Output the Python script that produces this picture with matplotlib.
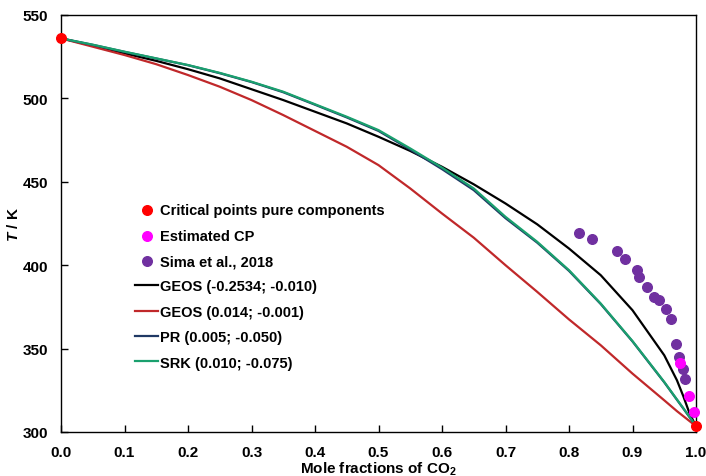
import matplotlib
matplotlib.use("Agg")
import matplotlib.pyplot as plt
import numpy as np

plt.rcParams['font.family'] = ['Liberation Sans', 'DejaVu Sans']
plt.rcParams['font.weight'] = 'bold'
plt.rcParams['mathtext.fontset'] = 'custom'
plt.rcParams['mathtext.bf'] = 'Liberation Sans:bold'
plt.rcParams['mathtext.bfit'] = 'Liberation Sans:bold:italic'

# Critical points of pure components
cp_x = [0.0, 1.0]
cp_T = [536.0, 303.5]

# Estimated critical points
est_x = [0.975, 0.989, 0.997]
est_T = [341.6, 321.8, 311.8]

# Sima et al., 2018
sima_x = [0.816, 0.836, 0.875, 0.888, 0.907, 0.911, 0.923, 0.934, 0.941,
          0.952, 0.960, 0.968, 0.974, 0.979, 0.983]
sima_T = [419.5, 415.5, 408.5, 404.0, 397.0, 393.0, 387.0, 381.0, 379.0,
          373.8, 367.8, 353.0, 345.0, 338.0, 332.0]

# Model curves
curve_x = [0.0, 0.05, 0.1, 0.15, 0.2, 0.25, 0.3, 0.35, 0.4, 0.45, 0.5, 0.55,
           0.6, 0.65, 0.7, 0.75, 0.8, 0.85, 0.9, 0.95, 0.97, 0.98, 0.99, 1.0]
geos1_T = [536.0, 531.7, 527.0, 522.5, 517.5, 512.0, 505.5, 499.0, 492.0, 485.0, 477.0, 468.5,
           459.0, 448.5, 437.0, 424.5, 410.0, 394.0, 373.0, 346.0, 331.0, 321.5, 311.0, 303.5]
geos2_T = [536.0, 531.0, 526.0, 520.5, 514.0, 507.0, 499.0, 490.0, 480.5, 471.0, 460.0, 446.0,
           431.0, 416.5, 400.0, 384.0, 367.5, 352.0, 335.0, 319.0, 312.5, 309.5, 306.5, 303.5]
pr_T    = [536.0, 532.1, 527.9, 523.9, 519.9, 515.1, 509.8, 503.7, 496.2, 488.6, 480.5, 469.3,
           457.6, 445.0, 428.2, 413.5, 396.6, 376.7, 354.3, 329.8, 319.3, 314.1, 308.8, 303.5]
srk_T   = [536.0, 532.2, 528.0, 524.0, 520.0, 515.3, 510.0, 504.0, 496.5, 489.0, 481.0, 470.0,
           458.5, 446.0, 429.0, 414.0, 397.0, 377.0, 354.5, 330.0, 319.5, 314.3, 309.0, 303.5]

fig = plt.figure(figsize=(7.06, 4.77), dpi=100)
ax = fig.add_axes([61/706, 1-433/477, 635/706, 417/477])

ax.plot(curve_x, geos1_T, color='black', lw=1.6, label='GEOS (-0.2534; -0.010)', zorder=3)
ax.plot(curve_x, geos2_T, color='#c0282a', lw=1.6, label='GEOS (0.014; -0.001)', zorder=3)
ax.plot(curve_x, pr_T, color='#1f3864', lw=1.6, label='PR (0.005; -0.050)', zorder=3)
ax.plot(curve_x, srk_T, color='#1aa06e', lw=1.6, label='SRK (0.010; -0.075)', zorder=3)

ax.scatter(cp_x, cp_T, s=48, color='#ff0000', zorder=6, label='Critical points pure components', clip_on=False)
ax.scatter(est_x, est_T, s=48, color='#ff00ff', zorder=5, label='Estimated CP', clip_on=False)
ax.scatter(sima_x, sima_T, s=48, color='#7030a0', zorder=4, label='Sima et al., 2018')

ax.set_xlim(0, 1.0)
ax.set_ylim(300, 550)
xt = np.round(np.arange(0, 1.01, 0.1), 1)
ax.set_xticks(xt)
ax.set_xticklabels([f'{v:.1f}' for v in xt])
ax.set_yticks([300, 350, 400, 450, 500, 550])
ax.tick_params(direction='in', length=5, width=1, labelsize=11, pad=9.5)
for lab in ax.get_xticklabels() + ax.get_yticklabels():
    lab.set_fontweight('bold')
for s in ax.spines.values():
    s.set_linewidth(1)

ax.set_xlabel('Mole fractions of CO$_\\mathbf{2}$', fontsize=11, fontweight='bold', labelpad=0)
ax.set_ylabel('$\\mathbfit{T}$ / K', fontsize=11, fontweight='bold', labelpad=1)

handles, labels = ax.get_legend_handles_labels()
order = [4, 5, 6, 0, 1, 2, 3]
leg = ax.legend([handles[i] for i in order], [labels[i] for i in order],
                loc='upper left', bbox_to_anchor=(0.096, 0.58), frameon=False,
                prop={'weight': 'bold', 'size': 10.5}, handlelength=1.6,
                handletextpad=0.1, labelspacing=0.78, scatterpoints=1)

fig.savefig('out.png', dpi=100)
